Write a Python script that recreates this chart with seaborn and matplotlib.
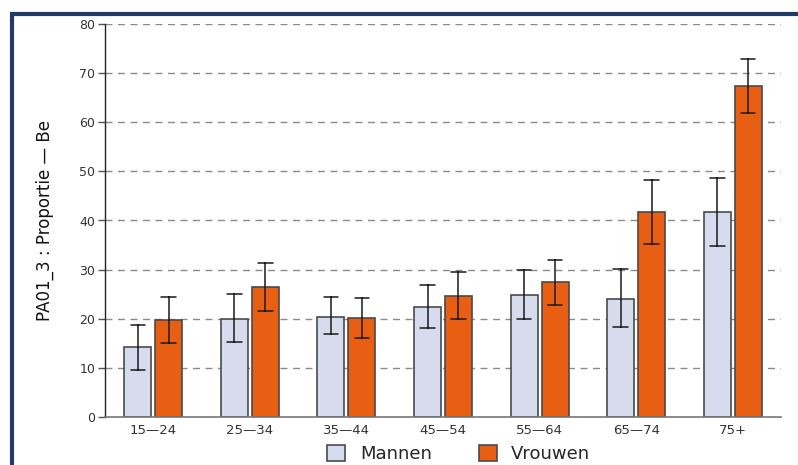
import numpy as np
import pandas as pd
import matplotlib
matplotlib.use("Agg")
import matplotlib.pyplot as plt
import seaborn as sns
from matplotlib.patches import Rectangle

# ---- data ----
groups = ["15\u201424", "25\u201434", "35\u201444", "45\u201454", "55\u201464", "65\u201474", "75+"]
mannen = [14.2, 20.0, 20.4, 22.4, 24.9, 24.0, 41.8]
mannen_lo = [9.5, 15.2, 16.8, 18.1, 19.9, 18.2, 34.8]
mannen_hi = [18.6, 25.0, 24.4, 26.8, 29.9, 30.1, 48.7]
vrouwen = [19.7, 26.5, 20.1, 24.7, 27.5, 41.8, 67.5]
vrouwen_lo = [15.0, 21.6, 16.1, 20.0, 22.7, 35.2, 61.9]
vrouwen_hi = [24.5, 31.3, 24.2, 29.5, 32.0, 48.2, 73.0]
series = ["Mannen", "Vrouwen"]
colors = ["#D6DBEE", "#E85F14"]
ylabel = "PA01_3 : Proportie \u2014 Be"

rows = []
for g, m, ml, mh, v, vl, vh in zip(groups, mannen, mannen_lo, mannen_hi,
                                   vrouwen, vrouwen_lo, vrouwen_hi):
    for val in (ml, m, mh):
        rows.append((g, series[0], val))
    for val in (vl, v, vh):
        rows.append((g, series[1], val))
df = pd.DataFrame(rows, columns=["group", "sex", "value"])

sns.set_style("white")
plt.rcParams["font.family"] = ["DejaVu Sans"]

fig = plt.figure(figsize=(7.98, 4.65), dpi=100)
ax = fig.add_axes([105 / 798, 1 - 416.7 / 465, 676 / 798, (416.7 - 24.3) / 465])

sns.barplot(data=df, x="group", y="value", hue="sex", order=groups,
            hue_order=series, palette=colors, estimator=np.median,
            errorbar=lambda x: (x.min(), x.max()), width=0.64, gap=0.125,
            capsize=0.3, err_kws={"color": "#1a1a1a", "linewidth": 1.1},
            edgecolor="#4a4a4a", linewidth=1.2, saturation=1, ax=ax)

ax.set_xlim(-0.5, 6.5)
ax.set_ylim(0, 80)
ax.set_yticks(np.arange(0, 81, 10))
for yv in np.arange(10, 81, 10):
    ax.axhline(yv, color="#8a8a8a", linestyle=(0, (5, 4)), linewidth=1.0, zorder=0)

for s in ["top", "right"]:
    ax.spines[s].set_visible(False)
ax.spines["left"].set_color("#222222")
ax.spines["left"].set_linewidth(1.0)
ax.spines["bottom"].set_color("#777777")
ax.spines["bottom"].set_linewidth(1.2)

ax.tick_params(axis="y", direction="out", length=5, width=1, color="#555555",
               labelsize=9, labelcolor="#333333", pad=2, left=True)
ax.tick_params(axis="x", length=0, labelsize=9.5, labelcolor="#333333", pad=5)
ax.set_xlabel("")
ax.set_ylabel(ylabel, fontsize=12, color="#111111")
ax.yaxis.set_label_coords(-0.075, 0.5)

handles, labels = ax.get_legend_handles_labels()
ax.get_legend().remove()
fig.legend(handles, labels, loc="center", bbox_to_anchor=(0.575, 0.024), ncol=2,
           frameon=False, fontsize=13, handlelength=1.0, handleheight=1.0,
           columnspacing=2.6, handletextpad=0.8)

# navy frame around the figure
fig.patches.append(Rectangle((11.5 / 798, -0.1), 1.2, 1 - 14.5 / 465 + 0.1,
                             transform=fig.transFigure, fill=False,
                             edgecolor="#213A66", linewidth=3.0, zorder=10))

fig.savefig("out.png", dpi=100)
